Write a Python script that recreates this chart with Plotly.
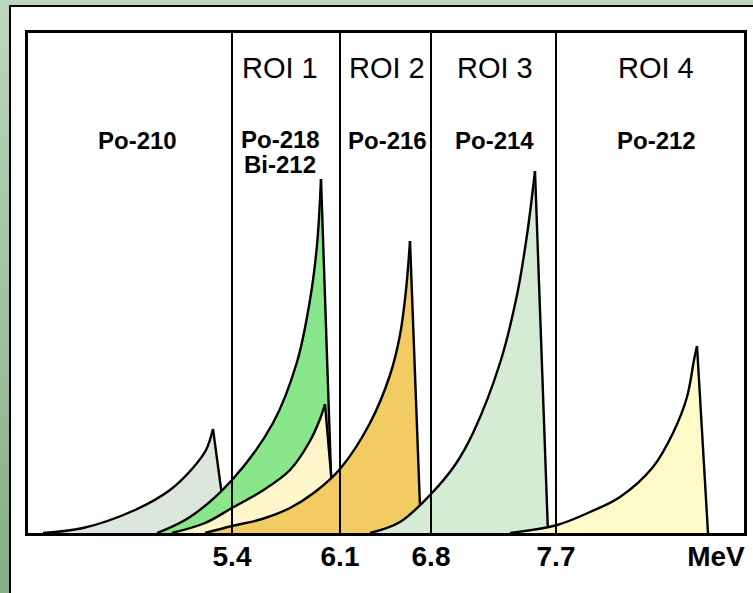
import plotly.graph_objects as go

W, H = 753, 593

# ---- axis / ROI data (x in channel units, y in counts) ----
roi_bounds = [204, 312, 403, 528]
tick_vals = [204, 312, 403, 528, 688]
tick_text = ["5.4", "6.1", "6.8", "7.7", "MeV"]

roi_labels = ["ROI 1", "ROI 2", "ROI 3", "ROI 4"]
roi_label_x = [252, 359, 467, 628]

iso_labels = ["Po-210", "Po-218", "Bi-212", "Po-216", "Po-214", "Po-212"]
iso_label_x = [109, 252, 252, 359, 466, 628]
iso_label_y = [393, 394, 369, 393, 393, 393]

po210_x = [15, 55, 107, 142, 164, 178, 185]
po210_y = [0, 5, 23, 43, 64, 83, 104]
po210_end = 199

po218_x = [129, 162, 204, 245, 269, 282, 289, 293]
po218_y = [0, 16, 53, 110, 171, 233, 288, 354]
po218_end = 305

bi212_x = [144, 177, 204, 234, 262, 282, 292, 297]
bi212_y = [0, 10, 25, 42, 63, 92, 114, 129]
bi212_end = 308

po216_x = [177, 204, 234, 262, 287, 312, 342, 362, 372, 378, 382]
po216_y = [0, 7, 14, 25, 41, 64, 110, 158, 198, 243, 292]
po216_end = 393

po214_x = [342, 372, 403, 427, 445, 472, 489, 499, 507]
po214_y = [0, 11, 39, 68, 100, 170, 238, 298, 362]
po214_end = 520

po212_x = [482, 529, 562, 592, 625, 645, 659, 666, 669]
po212_y = [0, 8, 21, 36, 66, 100, 136, 173, 187]
po212_end = 680

peaks = [
    (po210_x, po210_y, po210_end, "#dde6dd"),
    (po218_x, po218_y, po218_end, "#8ae68a"),
    (bi212_x, bi212_y, bi212_end, "#fef6ca"),
    (po216_x, po216_y, po216_end, "#f2cc62"),
    (po214_x, po214_y, po214_end, "#d3ecd3"),
    (po212_x, po212_y, po212_end, "#fffac8"),
]

fig = go.Figure()
LW = 2.4
for xs, ys, xend, col in peaks:
    # rising edge, filled down to the baseline
    fig.add_trace(go.Scatter(
        x=xs, y=ys, mode="lines", line=dict(color="black", width=LW, shape="spline"),
        fill="tozeroy", fillcolor=col, hoverinfo="skip", showlegend=False))
    # tail between peak and drop end
    fig.add_trace(go.Scatter(
        x=[xs[-1], xend, xs[-1] - 2], y=[ys[-1], 0, 0], mode="lines",
        line=dict(width=0), fill="toself", fillcolor=col,
        hoverinfo="skip", showlegend=False))
    # drop edge
    fig.add_trace(go.Scatter(
        x=[xs[-1], xend], y=[ys[-1], 0], mode="lines",
        line=dict(color="black", width=LW), hoverinfo="skip", showlegend=False))

shapes = []
# background gradient strip (left / top)
n = 40
top = (0xbe, 0xd6, 0xbe)
bot = (0x86, 0xae, 0x86)
for i in range(n):
    t = (i + 0.5) / n
    c = tuple(int(round(top[k] + (bot[k] - top[k]) * t)) for k in range(3))
    shapes.append(dict(type="rect", xref="paper", yref="paper",
                       x0=0, x1=1, y0=1 - (i + 1) / n - 0.002, y1=1 - i / n,
                       fillcolor="rgb(%d,%d,%d)" % c, line=dict(width=0), layer="below"))
# white panel
shapes.append(dict(type="rect", xref="paper", yref="paper",
                   x0=10 / W, x1=1.02, y0=-0.02, y1=1 - 6 / H,
                   fillcolor="white", line=dict(color="black", width=2), layer="below"))
# ROI boundaries
for xb in roi_bounds:
    shapes.append(dict(type="line", xref="x", yref="y domain", x0=xb, x1=xb, y0=0, y1=1,
                       line=dict(color="black", width=2), layer="above"))

annotations = []
for t, x in zip(roi_labels, roi_label_x):
    annotations.append(dict(text=t, x=x, y=465, xref="x", yref="y", showarrow=False,
                            font=dict(family="Liberation Sans, Arial", size=29, color="black")))
for t, x, y in zip(iso_labels, iso_label_x, iso_label_y):
    annotations.append(dict(text=t, x=x, y=y, xref="x", yref="y", showarrow=False,
                            font=dict(family="Liberation Sans, Arial", size=24, color="black",
                                      weight="bold")))

fig.update_layout(
    width=W, height=H,
    margin=dict(l=0, r=0, t=0, b=0),
    paper_bgcolor="#b4ceb4", plot_bgcolor="white",
    shapes=shapes, annotations=annotations, showlegend=False,
    xaxis=dict(domain=[28 / W, 744 / W], range=[0, 716], showgrid=False, zeroline=False,
               showline=True, mirror=True, linecolor="black", linewidth=2.5,
               tickmode="array", tickvals=tick_vals, ticktext=tick_text, ticks="",
               ticklabelstandoff=-3,
               tickfont=dict(family="Liberation Sans, Arial", size=28, color="black",
                             weight="bold"),
               fixedrange=True),
    yaxis=dict(domain=[(H - 533) / H, (H - 33) / H], range=[0, 500], showgrid=False,
               zeroline=False, showline=True, mirror=True, linecolor="black", linewidth=2.5,
               showticklabels=False, ticks="", fixedrange=True),
)

fig.write_html("out.html", config={"displayModeBar": False},
               post_script="document.body.style.margin='0';document.body.style.overflow='hidden';")
